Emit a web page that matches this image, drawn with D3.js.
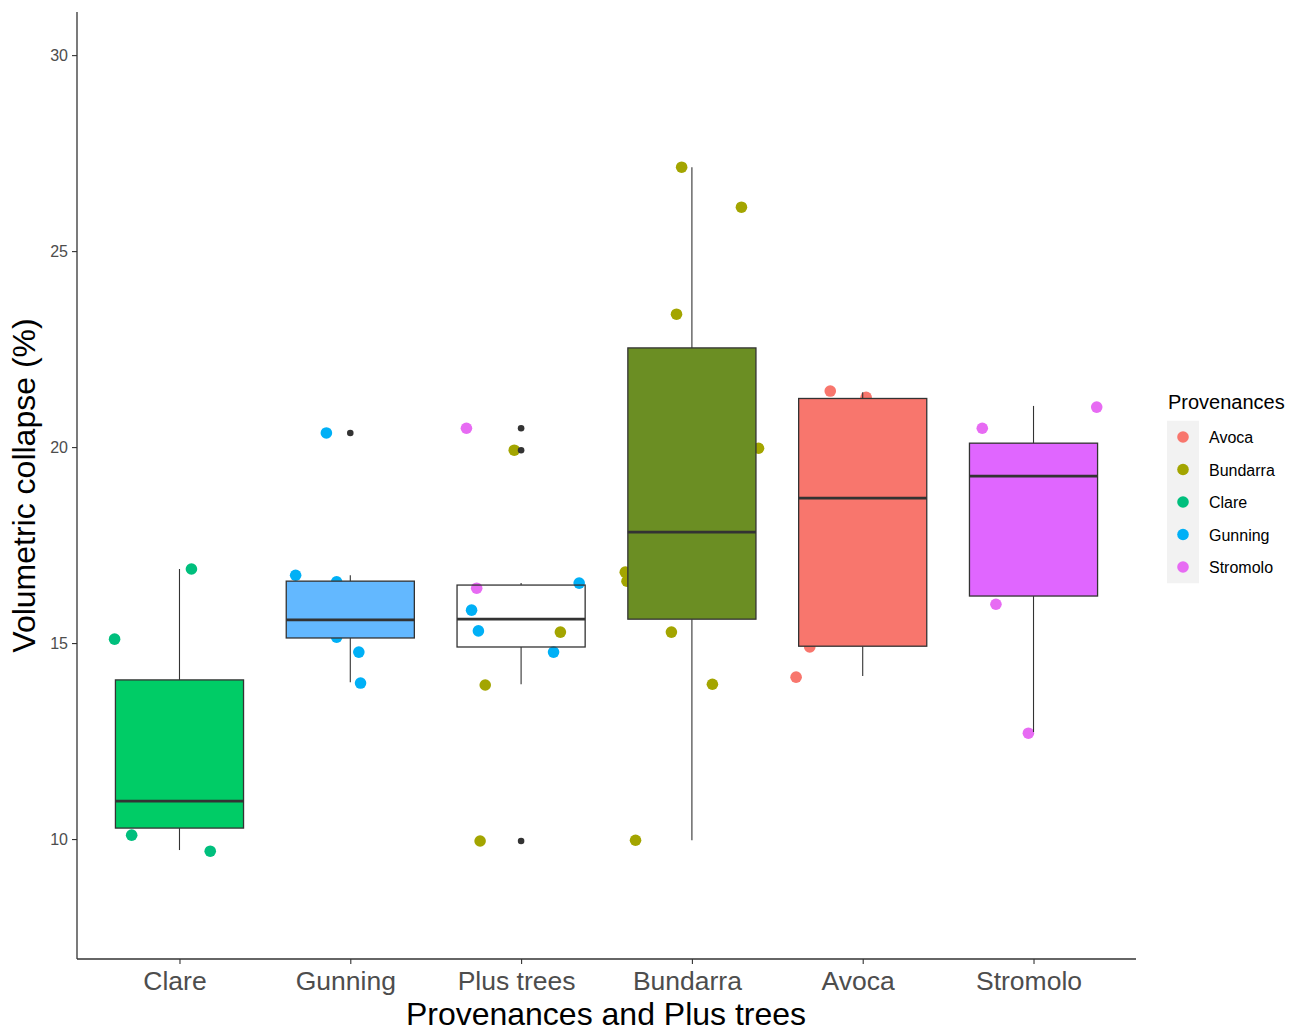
<!DOCTYPE html>
<html>
<head>
<meta charset="utf-8">
<script src="https://cdn.jsdelivr.net/npm/d3@7"></script>
<style>
  html, body { margin: 0; padding: 0; background: #fff; }
  svg { display: block; font-family: Arial, "Liberation Sans", sans-serif; }
</style>
</head>
<body>
<svg id="chart" width="1300" height="1032"></svg>
<script>
// Groups on the x axis, in plotting order
const groups = ["Clare", "Gunning", "Plus trees", "Bundarra", "Avoca", "Stromolo"];

// Box summary statistics per group (volumetric collapse, %)
const whiskerLow  = [9.72, 14.00, 13.95, 9.97, 14.16, 12.73];
const q1          = [10.28, 15.13, 14.90, 15.61, 14.92, 16.20];
const median      = [10.97, 15.59, 15.61, 17.83, 18.70, 19.26];
const q3          = [14.06, 16.58, 16.48, 22.53, 21.24, 20.10];
const whiskerHigh = [16.89, 16.73, 16.53, 27.14, 21.40, 21.05];

// Outliers flagged by the boxplot
const outlierGroup = ["Gunning", "Plus trees", "Plus trees", "Plus trees"];
const outlierValue = [20.36, 20.48, 19.92, 9.95];

// Individual trees: group, provenance, horizontal jitter (fraction of step), value
const pointGroup = [
  "Clare", "Clare", "Clare", "Clare",
  "Gunning", "Gunning", "Gunning", "Gunning", "Gunning", "Gunning",
  "Plus trees", "Plus trees", "Plus trees", "Plus trees", "Plus trees",
  "Plus trees", "Plus trees", "Plus trees", "Plus trees", "Plus trees",
  "Bundarra", "Bundarra", "Bundarra", "Bundarra", "Bundarra",
  "Bundarra", "Bundarra", "Bundarra", "Bundarra",
  "Avoca", "Avoca", "Avoca", "Avoca",
  "Stromolo", "Stromolo", "Stromolo", "Stromolo"
];
const pointProvenance = [
  "Clare", "Clare", "Clare", "Clare",
  "Gunning", "Gunning", "Gunning", "Gunning", "Gunning", "Gunning",
  "Stromolo", "Bundarra", "Stromolo", "Gunning", "Gunning",
  "Gunning", "Bundarra", "Gunning", "Bundarra", "Bundarra",
  "Bundarra", "Bundarra", "Bundarra", "Bundarra", "Bundarra",
  "Bundarra", "Bundarra", "Bundarra", "Bundarra",
  "Avoca", "Avoca", "Avoca", "Avoca",
  "Stromolo", "Stromolo", "Stromolo", "Stromolo"
];
const pointJitter = [
  -0.38, 0.07, -0.28, 0.18,
  -0.32, -0.14, -0.08, -0.08, 0.05, 0.06,
  -0.32, -0.04, -0.26, -0.29, -0.25,
  0.34, 0.23, 0.19, -0.21, -0.24,
  -0.06, 0.29, -0.09, 0.39, -0.39,
  -0.38, -0.12, 0.12, -0.33,
  -0.19, 0.02, -0.31, -0.39,
  -0.30, 0.37, -0.22, -0.03
];
const pointValue = [
  15.10, 16.89, 10.10, 9.69,
  16.73, 20.36, 16.56, 15.15, 14.77, 13.98,
  20.48, 19.92, 16.40, 15.84, 15.31,
  16.53, 15.28, 14.77, 13.93, 9.95,
  27.14, 26.12, 23.39, 19.97, 16.81,
  16.58, 15.28, 13.95, 9.97,
  21.43, 21.27, 14.90, 14.13,
  20.48, 21.02, 15.99, 12.70
];

// Legend entries and tick values
const provenances = ["Avoca", "Bundarra", "Clare", "Gunning", "Stromolo"];
const yTicks = [10, 15, 20, 25, 30];

// Colours
const pointColours = ["#F8766D", "#A3A500", "#00BF7D", "#00B0F6", "#E76BF3"];
const boxFills = ["#00CC66", "#63B8FF", "none", "#6B8E23", "#F8766D", "#E066FF"];

const svg = d3.select("#chart");

const panel = { left: 77, right: 1136, top: 12, bottom: 959 };

const y = d3.scaleLinear().domain([6.94, 31.1]).range([panel.bottom, panel.top]);

const step = (panel.right - panel.left) / (groups.length + 0.2);
const x = d3.scalePoint()
  .domain(groups)
  .range([panel.left + 0.6 * step, panel.right - 0.6 * step]);

const colour = d3.scaleOrdinal().domain(provenances).range(pointColours);
const fill = d3.scaleOrdinal().domain(groups).range(boxFills);

const boxWidth = 0.75 * step;

// Jittered tree values (drawn underneath the boxes)
svg.append("g")
  .selectAll("circle")
  .data(pointValue.map((v, i) => ({ v, g: pointGroup[i], p: pointProvenance[i], j: pointJitter[i] })))
  .join("circle")
  .attr("cx", d => x(d.g) + d.j * step)
  .attr("cy", d => y(d.v))
  .attr("r", 5.8)
  .attr("fill", d => colour(d.p));

// Boxplots
const boxes = groups.map((g, i) => ({
  g, lo: whiskerLow[i], q1: q1[i], med: median[i], q3: q3[i], hi: whiskerHigh[i]
}));

const bg = svg.append("g");
bg.selectAll("line.whisker-up")
  .data(boxes).join("line")
  .attr("x1", d => x(d.g)).attr("x2", d => x(d.g))
  .attr("y1", d => y(d.q3)).attr("y2", d => y(d.hi))
  .attr("stroke", "#333").attr("stroke-width", 1.1);
bg.selectAll("line.whisker-down")
  .data(boxes).join("line")
  .attr("x1", d => x(d.g)).attr("x2", d => x(d.g))
  .attr("y1", d => y(d.q1)).attr("y2", d => y(d.lo))
  .attr("stroke", "#333").attr("stroke-width", 1.1);
bg.selectAll("rect")
  .data(boxes).join("rect")
  .attr("x", d => x(d.g) - boxWidth / 2)
  .attr("width", boxWidth)
  .attr("y", d => y(d.q3))
  .attr("height", d => y(d.q1) - y(d.q3))
  .attr("fill", d => fill(d.g))
  .attr("stroke", "#333").attr("stroke-width", 1.3);
bg.selectAll("line.median")
  .data(boxes).join("line")
  .attr("x1", d => x(d.g) - boxWidth / 2).attr("x2", d => x(d.g) + boxWidth / 2)
  .attr("y1", d => y(d.med)).attr("y2", d => y(d.med))
  .attr("stroke", "#333").attr("stroke-width", 2.8);

// Boxplot outliers
svg.append("g")
  .selectAll("circle")
  .data(outlierValue.map((v, i) => ({ v, g: outlierGroup[i] })))
  .join("circle")
  .attr("cx", d => x(d.g))
  .attr("cy", d => y(d.v))
  .attr("r", 3.3)
  .attr("fill", "#333");

// Axes
const yAxis = d3.axisLeft(y).tickValues(yTicks).tickSize(5).tickPadding(4);
const gy = svg.append("g").attr("transform", `translate(${panel.left},0)`).call(yAxis);
gy.select(".domain").remove();
gy.selectAll(".tick line").attr("stroke", "#333").attr("stroke-width", 1.1);
gy.selectAll(".tick text").attr("fill", "#4D4D4D").style("font-size", "16px");

const xAxis = d3.axisBottom(x).tickSize(5).tickPadding(7);
const gx = svg.append("g").attr("transform", `translate(0,${panel.bottom})`).call(xAxis);
gx.select(".domain").remove();
gx.selectAll(".tick line").attr("stroke", "#333").attr("stroke-width", 1.1);
gx.selectAll(".tick text")
  .attr("fill", "#4D4D4D")
  .attr("dx", -5)
  .style("font-size", "26.5px");

svg.append("line")
  .attr("x1", panel.left).attr("x2", panel.left)
  .attr("y1", panel.top).attr("y2", panel.bottom)
  .attr("stroke", "#333").attr("stroke-width", 1.3);
svg.append("line")
  .attr("x1", panel.left).attr("x2", panel.right)
  .attr("y1", panel.bottom).attr("y2", panel.bottom)
  .attr("stroke", "#333").attr("stroke-width", 1.3);

// Axis titles
svg.append("text")
  .attr("x", 606)
  .attr("y", 1025)
  .attr("text-anchor", "middle")
  .style("font-size", "32px")
  .attr("fill", "#000")
  .text("Provenances and Plus trees");

svg.append("text")
  .attr("transform", `translate(35,${(panel.top + panel.bottom) / 2}) rotate(-90)`)
  .attr("text-anchor", "middle")
  .style("font-size", "32px")
  .attr("fill", "#000")
  .text("Volumetric collapse (%)");

// Legend
const legend = svg.append("g").attr("transform", "translate(1167,0)");
legend.append("text")
  .attr("x", 1).attr("y", 409)
  .style("font-size", "20px")
  .attr("fill", "#000")
  .text("Provenances");
const rowH = 32.5, firstRow = 437;
legend.append("rect")
  .attr("x", 0).attr("y", firstRow - rowH / 2)
  .attr("width", 32).attr("height", rowH * provenances.length)
  .attr("fill", "#F2F2F2");
const rows = legend.selectAll("g.row")
  .data(provenances).join("g")
  .attr("transform", (d, i) => `translate(0,${firstRow + i * rowH})`);
rows.append("circle")
  .attr("cx", 16).attr("cy", 0).attr("r", 5.8)
  .attr("fill", d => colour(d));
rows.append("text")
  .attr("x", 42).attr("y", 6)
  .style("font-size", "16px")
  .attr("fill", "#000")
  .text(d => d);
</script>
</body>
</html>
